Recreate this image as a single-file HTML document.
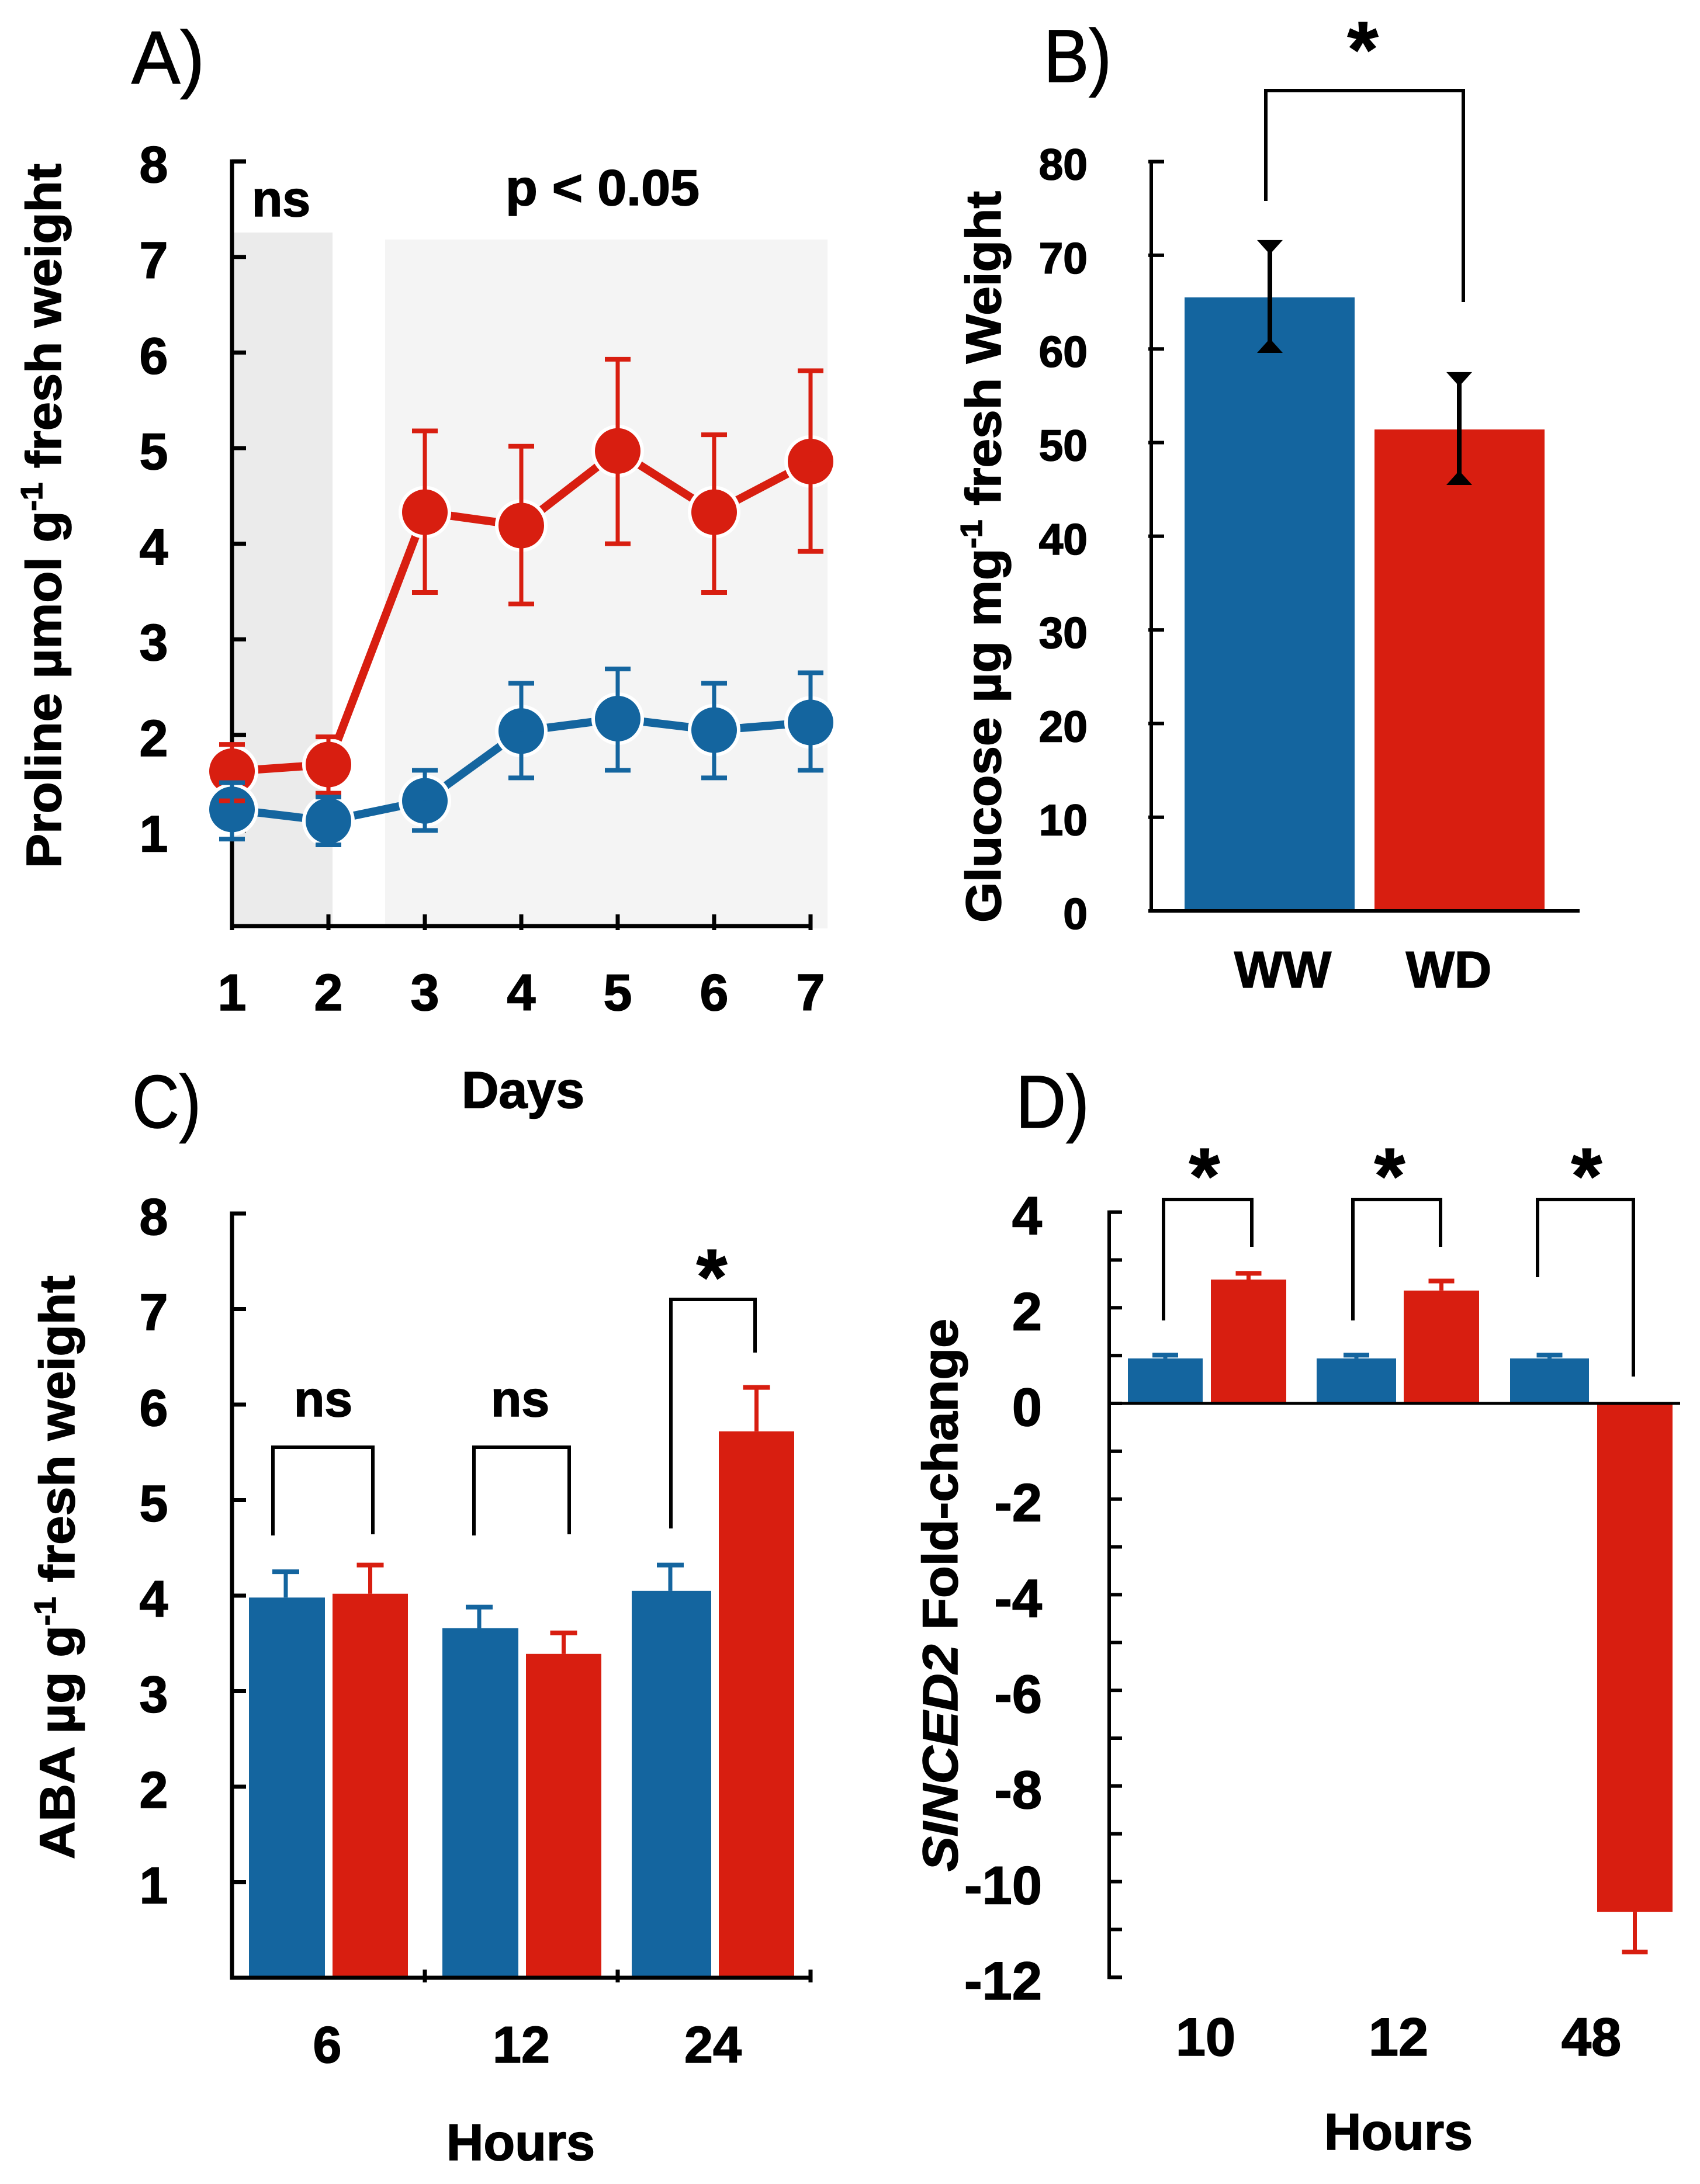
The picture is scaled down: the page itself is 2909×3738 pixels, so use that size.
<!DOCTYPE html>
<html lang="en">
<head>
<meta charset="utf-8">
<title>Proline, glucose, ABA and SlNCED2 under water deficit</title>
<style>
html,body{margin:0;padding:0;background:#fff;}
svg{display:block;}
text{font-family:"Liberation Sans",sans-serif;fill:#000;}
.b{font-weight:700;stroke:#000;stroke-width:1.6px;}
.p{stroke:#000;stroke-width:1.5px;}
</style>
</head>
<body>
<svg id="fig" xmlns="http://www.w3.org/2000/svg" width="2909" height="3738" viewBox="0 0 2909 3738">
<rect width="2909" height="3738" fill="#fff"/>
<g id="pa">
<rect x="400" y="398" width="169" height="1188" fill="#ebebeb"/>
<rect x="659" y="410" width="757" height="1179" fill="#f4f4f4"/>
<text class="p" x="225" y="143" font-size="128" textLength="125" lengthAdjust="spacingAndGlyphs">A)</text>
<text class="b" x="481" y="370" font-size="86" text-anchor="middle">ns</text>
<text class="b" x="865" y="351" font-size="86" textLength="332" lengthAdjust="spacingAndGlyphs">p &lt; 0.05</text>
<text class="b" x="895" y="1896" font-size="88" text-anchor="middle">Days</text>
<text class="b" transform="translate(104,1486) rotate(-90)" x="0" y="0" font-size="84" textLength="1206" lengthAdjust="spacingAndGlyphs">Proline µmol g<tspan font-size="52" dy="-32">-1</tspan><tspan dy="32"> fresh weight</tspan></text>
</g>
<g id="pb">
<text class="p" x="1786" y="140" font-size="128" textLength="116" lengthAdjust="spacingAndGlyphs">B)</text>
<text class="b" transform="translate(1712,1579) rotate(-90)" x="0" y="0" font-size="84" textLength="1252" lengthAdjust="spacingAndGlyphs">Glucose µg mg<tspan font-size="52" dy="-32">-1</tspan><tspan dy="32"> fresh Weight</tspan></text>
</g>
<g id="pc">
<text class="p" x="226" y="1930" font-size="128" textLength="118" lengthAdjust="spacingAndGlyphs">C)</text>
<text class="b" x="891" y="3697" font-size="88" text-anchor="middle">Hours</text>
<text class="b" transform="translate(127,3182) rotate(-90)" x="0" y="0" font-size="84" textLength="999" lengthAdjust="spacingAndGlyphs">ABA µg g<tspan font-size="52" dy="-32">-1</tspan><tspan dy="32"> fresh weight</tspan></text>
</g>
<g id="pd">
<text class="p" x="1738" y="1930" font-size="128" textLength="126" lengthAdjust="spacingAndGlyphs">D)</text>
<text class="b" x="2393" y="3679" font-size="88" text-anchor="middle">Hours</text>
<text class="b" transform="translate(1638,3203) rotate(-90)" x="0" y="0" font-size="84" textLength="946" lengthAdjust="spacingAndGlyphs"><tspan font-style="italic">SINCED2</tspan> Fold-change</text>
</g>
</svg>
<script>
const BLUE = '#14659f';
const RED = '#d81e10';

/* Panel A */
const aDays = [1, 2, 3, 4, 5, 6, 7];
const aYTicks = [1, 2, 3, 4, 5, 6, 7, 8];
const aRed = [1.62, 1.69, 4.33, 4.19, 4.97, 4.33, 4.86];
const aRedHi = [1.90, 1.98, 5.18, 5.02, 5.93, 5.14, 5.81];
const aRedLo = [1.31, 1.39, 3.49, 3.37, 4.00, 3.49, 3.92];
const aBlue = [1.22, 1.10, 1.31, 2.04, 2.17, 2.05, 2.13];
const aBlueHi = [1.50, 1.35, 1.63, 2.54, 2.69, 2.54, 2.65];
const aBlueLo = [0.91, 0.85, 1.00, 1.55, 1.63, 1.55, 1.63];

/* Panel B */
const bCats = ['WW', 'WD'];
const bVals = [65.5, 51.4];
const bHi = [71.5, 57.4];
const bLo = [59.7, 45.6];
const bYTicks = [0, 10, 20, 30, 40, 50, 60, 70, 80];

/* Panel C */
const cCats = ['6', '12', '24'];
const cBlue = [3.98, 3.66, 4.05];
const cBlueHi = [4.25, 3.88, 4.32];
const cRed = [4.02, 3.39, 5.72];
const cRedHi = [4.32, 3.61, 6.18];
const cYTicks = [1, 2, 3, 4, 5, 6, 7, 8];

/* Panel D */
const dCats = ['10', '12', '48'];
const dBlue = [0.94, 0.94, 0.94];
const dBlueErr = [1.01, 1.01, 1.01];
const dRed = [2.59, 2.36, -10.63];
const dRedErr = [2.72, 2.56, -11.47];
const dYLabels = [4, 2, 0, -2, -4, -6, -8, -10, -12];
const dYMinor = [4, 3, 2, 1, 0, -1, -2, -3, -4, -5, -6, -7, -8, -9, -10, -11, -12];

const NS = 'http://www.w3.org/2000/svg';
function mk(parent, tag, attrs, name, content) {
  const el = document.createElementNS(NS, tag);
  for (const k in attrs) el.setAttribute(k, attrs[k]);
  
  
  if (content !== undefined) el.textContent = content;
  parent.appendChild(el);
  return el;
}
function line(p, x1, y1, x2, y2, c, w, name) {
  return mk(p, 'line', {x1, y1, x2, y2, stroke: c, 'stroke-width': w}, name);
}
function txt(p, x, y, s, fs, anchor, name) {
  return mk(p, 'text', {x, y, 'font-size': fs, 'text-anchor': anchor, class: 'b'}, name, s);
}
function err(p, x, y0, y1, c, capHalf, name) {
  line(p, x, y0, x, y1, c, 7, name + '-stem');
  line(p, x - capHalf, y1, x + capHalf, y1, c, 8, name + '-cap');
}
function bracket(p, x1, x2, top, b1, b2, name) {
  mk(p, 'path', {d: `M${x1} ${b1}V${top}H${x2}V${b2}`, fill: 'none', stroke: '#000', 'stroke-width': 6}, name);
}
function star(p, x, inkTop, name) {
  txt(p, x, inkTop + 98, '*', 135, 'middle', name);
}

/* ---------- Panel A ---------- */
const pa = document.getElementById('pa');
const ax = d => 397 + 165 * (d - 1);
const ay = v => 1585 - 163.6 * v;
mk(pa, 'path', {d: `M421 ${ay(8)}H397V${ay(0)}H${ax(7)}`, fill: 'none', stroke: '#000', 'stroke-width': 7}, 'axes');
aYTicks.forEach(v => {
  line(pa, 397, ay(v), 421, ay(v), '#000', 7, 'y-tick');
  txt(pa, 263, ay(v) + 36, String(v), 88, 'middle', 'y-tick-label');
});
aDays.forEach(d => {
  line(pa, ax(d), ay(0) + 7, ax(d), ay(0) - 20, '#000', 7, 'x-tick');
  txt(pa, ax(d), 1729, String(d), 88, 'middle', 'x-tick-label');
});
function aSeries(vals, c, n) {
  mk(pa, 'polyline', {points: vals.map((v, i) => ax(aDays[i]) + ',' + ay(v)).join(' '), fill: 'none', stroke: c, 'stroke-width': 14}, n + '-line');
}
function aMarkers(vals, c, n) {
  vals.forEach((v, i) => mk(pa, 'circle', {cx: ax(aDays[i]), cy: ay(v), r: 42, fill: c, stroke: '#fff', 'stroke-width': 6}, n + '-point'));
}
function aErrs(vals, hi, lo, c, n) {
  vals.forEach((v, i) => {
    err(pa, ax(aDays[i]), ay(v), ay(hi[i]), c, 22, n + '-error-up');
    err(pa, ax(aDays[i]), ay(v), ay(lo[i]), c, 22, n + '-error-down');
  });
}
aSeries(aRed, RED, 'wd');
aSeries(aBlue, BLUE, 'ww');
aMarkers(aRed, RED, 'wd');
aMarkers(aBlue, BLUE, 'ww');
aErrs(aRed, aRedHi, aRedLo, RED, 'wd');
aErrs(aBlue, aBlueHi, aBlueLo, BLUE, 'ww');

/* ---------- Panel B ---------- */
const pb = document.getElementById('pb');
const by = v => 1559 - 16.03 * v;
const bX = [2027, 2352];
const bW = 291;
const bC = [BLUE, RED];
const bErrX = [2173, 2497];
bCats.forEach((c, i) => {
  mk(pb, 'rect', {x: bX[i], y: by(bVals[i]), width: bW, height: by(0) - by(bVals[i]), fill: bC[i]}, 'bar-' + c.toLowerCase());
});
mk(pb, 'path', {d: `M1992 ${by(80)}H1970V${by(0)}H2703M1965 ${by(0)}H1970`, fill: 'none', stroke: '#000', 'stroke-width': 6}, 'axes');
bYTicks.forEach(v => {
  line(pb, 1965, by(v), 1992, by(v), '#000', 6, 'y-tick');
  txt(pb, 1861, by(v) + 31, String(v), 75, 'end', 'y-tick-label');
});
bCats.forEach((c, i) => {
  const x = bErrX[i];
  const hi = by(bHi[i]);
  const lo = by(bLo[i]);
  line(pb, x, hi, x, lo, '#000', 8, 'error-stem');
  mk(pb, 'polygon', {points: `${x - 22},${hi - 2} ${x + 22},${hi - 2} ${x + 4},${hi + 18} ${x - 4},${hi + 18}`, fill: '#000'}, 'error-cap-top');
  mk(pb, 'polygon', {points: `${x - 22},${lo + 2} ${x + 22},${lo + 2} ${x + 4},${lo - 18} ${x - 4},${lo - 18}`, fill: '#000'}, 'error-cap-bottom');
});
txt(pb, 2195, 1690, bCats[0], 88, 'middle', 'x-tick-label');
txt(pb, 2479, 1690, bCats[1], 88, 'middle', 'x-tick-label');
bracket(pb, 2166, 2504, 155, 344, 517, 'significance-bracket');
star(pb, 2332, 33, 'significance-star');

/* ---------- Panel C ---------- */
const pc = document.getElementById('pc');
const cy = v => 3385 - 163.5 * v;
const cBlueX = [426, 757, 1081];
const cRedX = [569, 900, 1230];
const cWB = [130, 130, 136];
const cWR = [129, 129, 129];
cCats.forEach((c, i) => {
  mk(pc, 'rect', {x: cBlueX[i], y: cy(cBlue[i]), width: cWB[i], height: cy(0) - cy(cBlue[i]), fill: BLUE}, 'bar-ww-' + c + 'h');
  mk(pc, 'rect', {x: cRedX[i], y: cy(cRed[i]), width: cWR[i], height: cy(0) - cy(cRed[i]), fill: RED}, 'bar-wd-' + c + 'h');
  err(pc, cBlueX[i] + cWB[i] / 2 - 2, cy(cBlue[i]), cy(cBlueHi[i]), BLUE, 23, 'ww-error');
  err(pc, cRedX[i] + cWR[i] / 2, cy(cRed[i]), cy(cRedHi[i]), RED, 23, 'wd-error');
});
mk(pc, 'path', {d: `M421 ${cy(8)}H397V${cy(0)}H1387`, fill: 'none', stroke: '#000', 'stroke-width': 7}, 'axes');
cYTicks.forEach(v => {
  line(pc, 397, cy(v), 421, cy(v), '#000', 7, 'y-tick');
  txt(pc, 263, cy(v) + 36, String(v), 88, 'middle', 'y-tick-label');
});
[727, 1057, 1387].forEach(x => line(pc, x, cy(0) - 14, x, cy(0) + 8, '#000', 7, 'x-tick'));
const cLabelX = [560, 892, 1220];
cCats.forEach((c, i) => txt(pc, cLabelX[i], 3530, c, 88, 'middle', 'x-tick-label'));
bracket(pc, 467, 638, 2477, 2628, 2626, 'ns-bracket');
bracket(pc, 811, 974, 2477, 2628, 2626, 'ns-bracket');
bracket(pc, 1148, 1292, 2224, 2616, 2315, 'significance-bracket');
txt(pc, 553, 2424, 'ns', 86, 'middle', 'ns-annotation');
txt(pc, 890, 2424, 'ns', 86, 'middle', 'ns-annotation');
star(pc, 1218, 2134, 'significance-star');

/* ---------- Panel D ---------- */
const pd = document.getElementById('pd');
const dy = v => 2402 - 81.85 * v;
const dBlueX = [1930, 2253, 2584];
const dRedX = [2072, 2402, 2733];
const dWB = [128, 136, 135];
const dWR = 129;
dCats.forEach((c, i) => {
  mk(pd, 'rect', {x: dBlueX[i], y: dy(dBlue[i]), width: dWB[i], height: dy(0) - dy(dBlue[i]), fill: BLUE}, 'bar-ww-' + c + 'h');
  const top = Math.min(dy(dRed[i]), dy(0));
  mk(pd, 'rect', {x: dRedX[i], y: top, width: dWR, height: Math.abs(dy(dRed[i]) - dy(0)), fill: RED}, 'bar-wd-' + c + 'h');
  err(pd, dBlueX[i] + dWB[i] / 2, dy(dBlue[i]), dy(dBlueErr[i]), BLUE, 22, 'ww-error');
  err(pd, dRedX[i] + dWR / 2, dy(dRed[i]), dy(dRedErr[i]), RED, 22, 'wd-error');
});
mk(pd, 'path', {d: `M1920 ${dy(4)}H1898V${dy(-12)}H1920`, fill: 'none', stroke: '#000', 'stroke-width': 6}, 'y-axis');
line(pd, 1898, dy(0), 2875, dy(0), '#000', 5, 'zero-line');
dYMinor.forEach(v => line(pd, 1898, dy(v), 1920, dy(v), '#000', 6, 'y-tick'));
dYLabels.forEach(v => txt(pd, 1783, dy(v) + 38, String(v), 92, 'end', 'y-tick-label'));
const dLabelX = [2063, 2393, 2723];
dCats.forEach((c, i) => txt(pd, dLabelX[i], 3518, c, 92, 'middle', 'x-tick-label'));
bracket(pd, 1991, 2142, 2053, 2260, 2134, 'significance-bracket');
bracket(pd, 2315, 2465, 2053, 2260, 2134, 'significance-bracket');
bracket(pd, 2631, 2795, 2053, 2186, 2356, 'significance-bracket');
star(pd, 2061, 1961, 'significance-star');
star(pd, 2378, 1961, 'significance-star');
star(pd, 2715, 1961, 'significance-star');
</script>
</body>
</html>
